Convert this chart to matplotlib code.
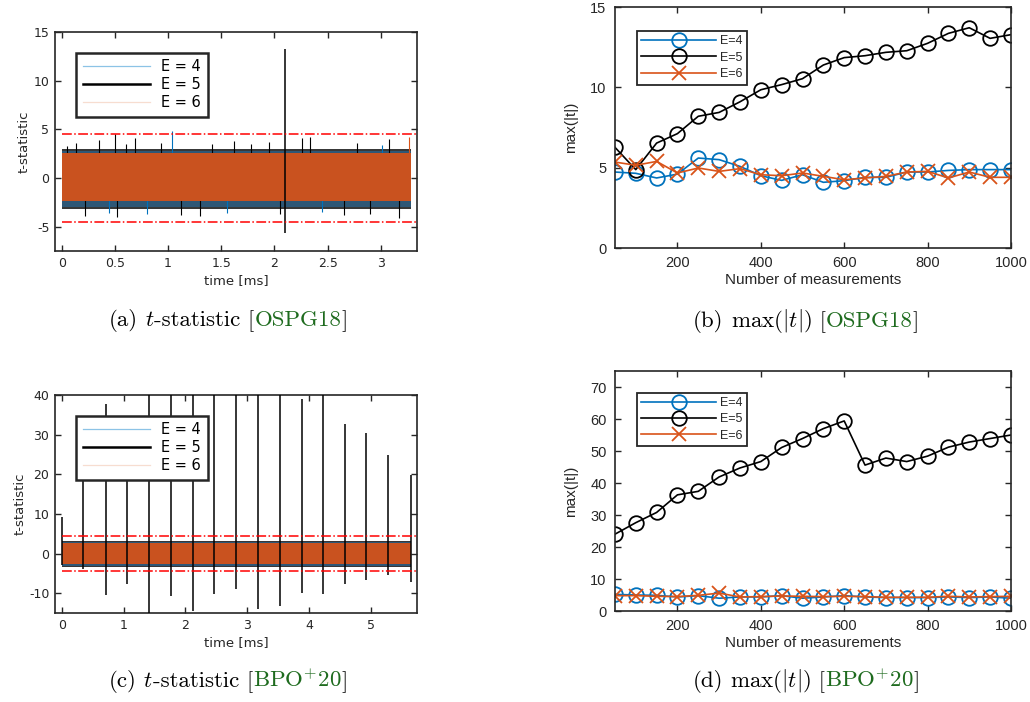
import matplotlib
matplotlib.use("Agg")
import matplotlib.pyplot as plt
from matplotlib.offsetbox import TextArea, HPacker, AnnotationBbox

plt.rcParams['axes.unicode_minus'] = False
plt.rcParams['mathtext.fontset'] = 'cm'

BLUE = '#0072BD'
ORANGE = '#D95319'
GREEN = '#1E6B1E'
INK = '#262626'

# ---- (b) / (d): max(|t|) against number of measurements
n_meas = [50, 100, 150, 200, 250, 300, 350, 400, 450, 500,
          550, 600, 650, 700, 750, 800, 850, 900, 950, 1000]

b_e4 = [4.73, 4.65, 4.36, 4.6, 5.6, 5.5, 5.08, 4.5, 4.21, 4.56,
        4.09, 4.19, 4.4, 4.4, 4.73, 4.73, 4.83, 4.88, 4.88, 4.88]
b_e5 = [6.27, 4.88, 6.53, 7.12, 8.2, 8.44, 9.1, 9.85, 10.17, 10.54,
        11.39, 11.85, 11.97, 12.18, 12.28, 12.74, 13.36, 13.71, 13.05, 13.28]
b_e6 = [5.35, 5.15, 5.39, 4.67, 4.98, 4.77, 4.94, 4.56, 4.5, 4.67,
        4.46, 4.25, 4.36, 4.46, 4.73, 4.77, 4.36, 4.73, 4.4, 4.4]

d_e4 = [5.2, 5.0, 4.9, 4.4, 4.8, 4.0, 4.4, 4.4, 4.8, 4.0,
        4.4, 4.8, 4.4, 4.2, 4.2, 4.2, 4.4, 4.2, 4.4, 4.0]
d_e5 = [24.0, 27.6, 30.8, 36.3, 37.4, 41.9, 44.7, 46.7, 51.1, 53.9,
        57.0, 59.4, 45.6, 47.8, 46.7, 48.4, 51.2, 52.8, 53.9, 55.0]
d_e6 = [4.8, 4.8, 4.6, 4.5, 4.9, 5.6, 4.4, 4.5, 4.7, 4.6,
        4.5, 4.6, 4.5, 4.3, 4.3, 4.3, 4.6, 4.4, 4.5, 4.6]

# ---- (a) / (c): t-statistic traces, read as envelope bands + spikes
labels = ['E = 4', 'E = 5', 'E = 6']
a_end = 3.28
a_lo = [-3.0, -3.2, -2.4]     # E=4, E=5, E=6
a_hi = [2.8, 2.95, 2.6]
a_peak_t = [0.05, 0.13, 0.22, 0.35, 0.44, 0.50, 0.52, 0.60, 0.69, 0.80, 0.93, 1.04, 1.12,
            1.30, 1.41, 1.55, 1.62, 1.78, 1.95, 2.05, 2.26, 2.33, 2.45, 2.65, 2.78,
            2.90, 3.01, 3.08, 3.17, 3.26]
a_peak_v = [3.3, 3.6, -3.9, 3.9, -3.6, 4.5, -4.0, 3.5, 4.1, -3.7, 3.6, 4.8, -3.8,
            -3.9, 3.5, -3.6, 3.8, 3.5, 3.7, -3.7, 4.1, 4.2, -3.5, -3.8, 3.6,
            -3.7, 3.4, 4.0, -4.1, 4.2]
a_peak_c = ['k', 'k', 'k', 'k', BLUE, 'k', 'k', 'k', 'k', BLUE, 'k', BLUE, 'k',
            'k', 'k', BLUE, 'k', 'k', 'k', 'k', 'k', 'k', BLUE, 'k', 'k',
            'k', BLUE, 'k', 'k', ORANGE]
a_spike_t = [2.10]
a_spike_lo = [-5.7]
a_spike_hi = [13.2]

c_end = 5.65
c_lo = [-3.2, -3.4, -2.6]
c_hi = [3.0, 3.2, 2.7]
c_spike_t = [0.0, 0.35, 0.71, 1.06, 1.41, 1.76, 2.12, 2.47, 2.82,
             3.17, 3.53, 3.88, 4.23, 4.58, 4.93, 5.28, 5.65]
c_spike_hi = [9.3, 30, 37.8, 30, 45, 45, 45, 45, 45,
              45, 45, 39.0, 45, 32.6, 30.3, 24.9, 19.8]
c_spike_lo = [-3, -4, -10.5, -7.8, -16, -10.7, -14.6, -10.1, -9.0,
              -14.1, -13.3, -9.9, -10.2, -7.8, -6.7, -5.3, -7.2]

threshold = 4.5

fig = plt.figure(figsize=(10.30, 7.02), dpi=100)


def style_axes(ax, fontfamily, size, pad):
    for s in ax.spines.values():
        s.set_linewidth(1.2)
        s.set_color(INK)
    ax.tick_params(direction='in', top=True, right=True, length=4, width=1.0,
                   colors=INK, labelsize=size, pad=pad)
    for lab in ax.get_xticklabels() + ax.get_yticklabels():
        lab.set_fontfamily(fontfamily)


def trace_panel(ax, end, lo, hi, spike_t, spike_lo, spike_hi, xlim, ylim, xticks, yticks,
                peak_t=(), peak_v=(), peak_c=()):
    # E=5 (black) widest, E=4 (blue) beneath E=6 (orange)
    ax.fill_between([0, end], lo[1], hi[1], color='#222222', alpha=0.9, lw=0, zorder=1)
    ax.fill_between([0, end], lo[0], hi[0], color='#2C5F86', alpha=0.8, lw=0, zorder=2)
    ax.fill_between([0, end], lo[2], hi[2], color='#C9521F', lw=0, zorder=3)
    for t, v, c in zip(peak_t, peak_v, peak_c):
        ax.vlines(t, 0, v, color=c, lw=0.8, zorder=2)
    ax.vlines(spike_t, spike_lo, spike_hi, color='black', lw=1.1, zorder=4)
    ax.plot([0, xlim[1]], [threshold, threshold], color='red', ls='-.', lw=1.1, zorder=5)
    ax.plot([0, xlim[1]], [-threshold, -threshold], color='red', ls='-.', lw=1.1, zorder=5)
    # legend proxies
    h4, = ax.plot([], [], color='#8CC3E6', lw=0.9)
    h5, = ax.plot([], [], color='black', lw=1.8)
    h6, = ax.plot([], [], color='#F7DDD0', lw=0.9)
    leg = ax.legend([h4, h5, h6], labels, loc='upper left', bbox_to_anchor=(0.058, 0.905),
                    borderaxespad=0, fancybox=False, edgecolor=INK, framealpha=1,
                    handlelength=4.6, labelspacing=0.2, borderpad=0.45,
                    prop={'family': 'DejaVu Sans', 'size': 10.5})
    leg.get_frame().set_linewidth(1.8)
    leg.set_zorder(10)
    ax.set_xlim(*xlim)
    ax.set_ylim(*ylim)
    ax.set_xticks(xticks)
    ax.set_yticks(yticks)
    ax.set_xlabel('time [ms]', fontsize=9.5, color=INK, family='DejaVu Sans', labelpad=3)
    ax.set_ylabel('t-statistic', fontsize=9.5, color=INK, family='DejaVu Sans', labelpad=2)
    style_axes(ax, 'DejaVu Sans', 9, 4)


def max_panel(ax, e4, e5, e6, ylim, yticks, anchor_y):
    ax.plot(n_meas, e4, color=BLUE, marker='o', ms=10.5, mfc='none', mew=1.3, lw=1.2, label='E=4')
    ax.plot(n_meas, e5, color='black', marker='o', ms=10.5, mfc='none', mew=1.3, lw=1.2, label='E=5')
    ax.plot(n_meas, e6, color=ORANGE, marker='x', ms=10.5, mew=1.3, lw=1.2, label='E=6')
    leg = ax.legend(loc='upper left', bbox_to_anchor=(0.055, anchor_y), borderaxespad=0,
                    fancybox=False, edgecolor=INK, framealpha=1, handlelength=6.0,
                    labelspacing=0.35, borderpad=0.35, handletextpad=0.3,
                    prop={'family': 'Liberation Sans', 'size': 9})
    leg.get_frame().set_linewidth(1.3)
    for t in leg.get_texts():
        t.set_color(INK)
    ax.set_xlim(50, 1000)
    ax.set_ylim(*ylim)
    ax.set_xticks([200, 400, 600, 800, 1000])
    ax.set_yticks(yticks)
    ax.set_xlabel('Number of measurements', fontsize=11, color=INK,
                  family='Liberation Sans', labelpad=2)
    ax.set_ylabel('max(|t|)', fontsize=11, color=INK, family='Liberation Sans', labelpad=9)
    style_axes(ax, 'Liberation Sans', 10.5, 6)


ax_a = fig.add_axes([0.0534, 0.6425, 0.3515, 0.312])
ax_b = fig.add_axes([0.597, 0.6467, 0.3845, 0.3433])
ax_c = fig.add_axes([0.0534, 0.1268, 0.3515, 0.3105])
ax_d = fig.add_axes([0.597, 0.1296, 0.3845, 0.3419])

trace_panel(ax_a, a_end, a_lo, a_hi, a_spike_t, a_spike_lo, a_spike_hi,
            (-0.063, 3.34), (-7.5, 15), [0, 0.5, 1, 1.5, 2, 2.5, 3], [-5, 0, 5, 10, 15],
            a_peak_t, a_peak_v, a_peak_c)
ax_a.set_xticklabels(['0', '0.5', '1', '1.5', '2', '2.5', '3'])
trace_panel(ax_c, c_end, c_lo, c_hi, c_spike_t, c_spike_lo, c_spike_hi,
            (-0.11, 5.75), (-15, 40), [0, 1, 2, 3, 4, 5], [-10, 0, 10, 20, 30, 40])

max_panel(ax_b, b_e4, b_e5, b_e6, (0, 15), [0, 5, 10, 15], 0.90)
max_panel(ax_d, d_e4, d_e5, d_e6, (0, 75), [0, 10, 20, 30, 40, 50, 60, 70], 0.91)


def caption(x, y, label, parts):
    props = dict(fontsize=16.5, fontfamily='cmr10')
    boxes = [TextArea(text, textprops=dict(color=color, **props)) for text, color in parts]
    body = HPacker(children=boxes, pad=0, sep=0, align='baseline')
    head = TextArea(label, textprops=dict(color='black', **props))
    pack = HPacker(children=[head, body], pad=0, sep=5, align='baseline')
    ab = AnnotationBbox(pack, (x, y), xycoords='figure fraction', frameon=False,
                        box_alignment=(0.5, 0.5))
    fig.add_artist(ab)


caption(228 / 1030, 1 - 321 / 702, '(a)',
        [('$t$', 'black'), ('-statistic [', 'black'), ('OSPG18', GREEN), (']', 'black')])
caption(806 / 1030, 1 - 321 / 702, '(b)',
        [(r'$\mathrm{max}(|t|)$', 'black'), (' [', 'black'), ('OSPG18', GREEN), (']', 'black')])
caption(228 / 1030, 1 - 681 / 702, '(c)',
        [('$t$', 'black'), ('-statistic [', 'black'), (r'BPO$^{+}$20', GREEN), (']', 'black')])
caption(806 / 1030, 1 - 681 / 702, '(d)',
        [(r'$\mathrm{max}(|t|)$', 'black'), (' [', 'black'), (r'BPO$^{+}$20', GREEN), (']', 'black')])

fig.savefig('out.png', dpi=100)
